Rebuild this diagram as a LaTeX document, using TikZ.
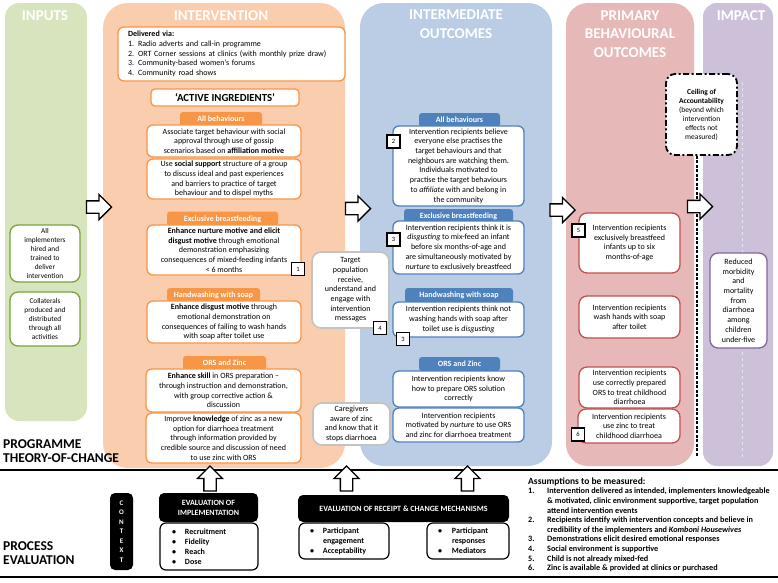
\documentclass[tikz,border=0pt]{standalone}
\usepackage{fontspec}
\setmainfont{Carlito}
\usetikzlibrary{shapes.arrows}
\definecolor{grcol}{RGB}{216,228,190}
\definecolor{grbd}{RGB}{119,163,60}
\definecolor{orcol}{RGB}{251,205,175}
\definecolor{orbd}{RGB}{247,150,70}
\definecolor{blcol}{RGB}{186,205,229}
\definecolor{blbd}{RGB}{79,129,189}
\definecolor{rdcol}{RGB}{230,185,184}
\definecolor{rdbd}{RGB}{192,80,77}
\definecolor{pucol}{RGB}{205,193,218}
\definecolor{pubd}{RGB}{128,100,162}
\definecolor{gybd}{RGB}{195,195,195}
\tikzset{
 ttl/.style={text=white, font=\fontsize{15}{18.5}\selectfont\bfseries, align=center, inner sep=0pt},
 bx/.style={fill=white, line width=1.3pt, rounded corners=6pt, align=center, font=\fontsize{8}{9.7}\selectfont, inner sep=0pt},
 obx/.style={bx, draw=orbd},
 bbx/.style={bx, draw=blbd},
 rbx/.style={bx, draw=rdbd},
 gbx/.style={bx, draw=grbd, font=\fontsize{7.3}{9}\selectfont, rounded corners=8pt},
 pbx/.style={bx, draw=pubd, rounded corners=8pt},
 gybx/.style={bx, draw=gybd, line width=1.6pt, rounded corners=9pt},
 tabx/.style={rounded corners=3pt, text=white, font=\fontsize{8}{9}\selectfont\bfseries, inner sep=0pt},
 otab/.style={tabx, fill=orbd},
 btab/.style={tabx, fill=blbd},
 lbl/.style={draw=black, fill=white, line width=1.3pt, minimum size=13pt, inner sep=0pt, font=\fontsize{6.5}{7}\selectfont},
 rarr/.style={single arrow, draw=black, fill=white, line width=1.3pt, minimum height=25pt, inner sep=5.5pt, single arrow head extend=6.5pt},
 blk/.style={fill=black, text=white, rounded corners=5pt, font=\fontsize{8}{10}\selectfont\bfseries, align=center, inner sep=0pt},
 wbx/.style={draw=black, fill=white, line width=1.2pt, rounded corners=6pt, font=\fontsize{8}{10}\selectfont\bfseries, align=left, inner sep=0pt},
 sect/.style={font=\fontsize{13.5}{14.5}\selectfont\bfseries, align=left, inner sep=0pt, anchor=west},
}
\begin{document}
\begin{tikzpicture}[x=1pt,y=-1pt]
\useasboundingbox (0,0) rectangle (778,582);
\fill[white] (0,0) rectangle (778,582);
% columns
\fill[grcol, rounded corners=14pt] (5,3) rectangle (87,421);
\fill[orcol, rounded corners=25pt] (103,3) rectangle (345,468);
\fill[blcol, rounded corners=24pt] (360,3) rectangle (552,466);
\fill[rdcol, rounded corners=22pt] (566,3) rectangle (694,466);
\fill[pucol, rounded corners=14pt] (703,3) rectangle (773,466);
% titles
\node[ttl] (tinp) at (45,16) {INPUTS};
\node[ttl] (tint) at (221,16) {INTERVENTION};
\node[ttl] (tmid) at (456,24) {INTERMEDIATE\\OUTCOMES};
\node[ttl] (tpri) at (630,34) {PRIMARY\\BEHAVIOURAL\\OUTCOMES};
\node[ttl] (timp) at (741,16) {IMPACT};
% inputs
\node[gbx, minimum width=70pt, minimum height=57pt] (g1) at (45,253.5) {All\\implementers\\hired and\\trained to\\deliver\\intervention};
\node[gbx, minimum width=70pt, minimum height=54pt] (g2) at (45,319) {Collaterals\\produced and\\distributed\\through all\\activities};
% intervention
\node[obx, align=left, text width=207pt, inner xsep=10pt, minimum height=54pt] (deliv) at (231.5,54) {\textbf{Delivered via:}\\1. Radio adverts and call-in programme\\2. ORT Corner sessions at clinics (with monthly prize draw)\\3. Community-based women’s forums\\4. Community road shows};
\node[obx, minimum width=148pt, minimum height=17pt, font=\fontsize{10.8}{12}\selectfont\bfseries, rounded corners=4pt] (activ) at (225,97.5) {‘ACTIVE INGREDIENTS’};
\node[otab, minimum width=82pt, minimum height=14pt] (otab1) at (221,119) {All behaviours};
\node[obx, minimum width=154pt, minimum height=32pt] (oa1) at (224,141) {Associate target behaviour with social\\approval through use of gossip\\scenarios based on \textbf{affiliation motive}};
\node[obx, minimum width=154pt, minimum height=40pt] (oa2) at (224,179) {Use \textbf{social support} structure of a group\\to discuss ideal and past experiences\\and barriers to practice of target\\behaviour and to dispel myths};
\node[otab, minimum width=111pt, minimum height=15pt] (otab2) at (222.5,219) {Exclusive breastfeeding};
\node[obx, minimum width=154pt, minimum height=50pt] (oeb) at (224,250) {\textbf{Enhance nurture motive and elicit}\\\textbf{disgust motive} through emotional\\demonstration emphasizing\\consequences of mixed-feeding infants\\< 6 months};
\node[lbl] (l1) at (298,269) {1};
\node[otab, minimum width=93pt, minimum height=14pt] (otab3) at (213.5,295) {Handwashing with soap};
\node[obx, minimum width=154pt, minimum height=42pt] (ohw) at (224,322) {\textbf{Enhance disgust motive} through\\emotional demonstration on\\consequences of failing to wash hands\\with soap after toilet use};
\node[otab, minimum width=83pt, minimum height=14pt] (otab4) at (224.5,363) {ORS and Zinc};
\node[obx, minimum width=155pt, minimum height=43pt] (orsa) at (223.5,390.5) {\textbf{Enhance skill} in ORS preparation –\\through instruction and demonstration,\\with group corrective action \&\\discussion};
\node[obx, minimum width=155pt, minimum height=50pt] (orsb) at (223.5,438) {Improve \textbf{knowledge} of zinc as a new\\option for diarrhoea treatment\\through information provided by\\credible source and discussion of need\\to use zinc with ORS};
% gray
\node[gybx, minimum width=77pt, minimum height=76pt] (tgt) at (350.5,290) {Target\\population\\receive,\\understand and\\engage with\\intervention\\messages};
\node[lbl] (l4) at (380,328) {4};
\node[gybx, minimum width=77pt, minimum height=42pt] (care) at (351.5,424) {Caregivers\\aware of zinc\\and know that it\\stops diarrhoea};
% intermediate
\node[btab, minimum width=81pt, minimum height=14pt] (btab1) at (459.5,120) {All behaviours};
\node[bbx, minimum width=131pt, minimum height=80pt] (bab) at (458.5,166) {Intervention recipients believe\\everyone else practises the\\target behaviours and that\\neighbours are watching them.\\Individuals motivated to\\practise the target behaviours\\to \textit{affiliate} with and belong in\\the community};
\node[lbl] (l2) at (393.5,141.5) {2};
\node[btab, minimum width=109pt, minimum height=14pt] (btab2) at (458.5,216) {Exclusive breastfeeding};
\node[bbx, minimum width=131pt, minimum height=53pt] (beb) at (458.5,247.5) {Intervention recipients think it is\\\textit{disgusting} to mix-feed an infant\\before six months-of-age and\\are simultaneously motivated by\\\textit{nurture} to exclusively breastfeed};
\node[lbl] (l3a) at (393.5,239.5) {3};
\node[btab, minimum width=108pt, minimum height=15pt] (btab3) at (459,295.5) {Handwashing with soap};
\node[bbx, minimum width=131pt, minimum height=35pt] (bhw) at (458.5,319.5) {Intervention recipients think not\\washing hands with soap after\\toilet use is \textit{disgusting}};
\node[lbl] (l3b) at (403,339) {3};
\node[btab, minimum width=81pt, minimum height=14pt] (btab4) at (459.5,364) {ORS and Zinc};
\node[bbx, minimum width=131pt, minimum height=36pt] (borsa) at (458.5,389) {Intervention recipients know\\how to prepare ORS solution\\correctly};
\node[bbx, minimum width=131pt, minimum height=34pt] (borsb) at (458.5,425) {Intervention recipients\\motivated by \textit{nurture} to use ORS\\and zinc for diarrhoea treatment};
% primary
\node[rbx, minimum width=101pt, minimum height=60pt, rounded corners=8pt] (r5) at (629.5,243) {Intervention recipients\\exclusively breastfeed\\infants up to six\\months-of-age};
\node[lbl] (l5) at (578.5,230.5) {5};
\node[rbx, minimum width=101pt, minimum height=42pt, rounded corners=8pt] (rhw) at (629.5,317) {Intervention recipients\\wash hands with soap\\after toilet};
\node[rbx, minimum width=101pt, minimum height=41pt, rounded corners=8pt] (rors) at (629.5,387.5) {Intervention recipients\\use correctly prepared\\ORS to treat childhood\\diarrhoea};
\node[rbx, minimum width=102pt, minimum height=34pt, rounded corners=8pt] (rzinc) at (629,426) {Intervention recipients\\use zinc to treat\\childhood diarrhoea};
\node[lbl] (l6) at (578,434.5) {6};
% impact
\draw[white!55!pucol, dashed, line width=0.8pt] (742,82) -- (742,460);
\node[pbx, minimum width=57pt, minimum height=95pt] (imp) at (738.5,300.5) {Reduced\\morbidity\\and\\mortality\\from\\diarrhoea\\among\\children\\under-five};
% ceiling
\node[bx, draw=black, line width=1.8pt, dash pattern=on 6pt off 2.5pt on 2pt off 2.5pt, rounded corners=9pt, minimum width=71pt, minimum height=81pt, font=\fontsize{7.5}{9}\selectfont] (ceil) at (701.5,114.5) {\textbf{Ceiling of}\\\textbf{Accountability}\\(beyond which\\intervention\\effects not\\measured)};
\coordinate (cend) at (697,457);
\draw[black, line width=1.3pt, dash pattern=on 3pt off 1.5pt] (ceil.south -| cend) -- (cend);
% block arrows between columns
\node[rarr] (arA) at (96,207) {};
\node[rarr] (arB) at (355,208.5) {};
\node[rarr] (arC) at (559.5,210) {};
\node[rarr] (arD) at (697,206.5) {};
% section labels
\node[sect] (ptoc) at (3,451) {PROGRAMME\\THEORY-OF-CHANGE};
\node[sect] (pev) at (3,553) {PROCESS\\EVALUATION};
% lines
\draw[line width=1.8pt] (0,470) coordinate (lineL) -- (778,470) coordinate (lineR);
\draw[line width=1.8pt] (0,577) coordinate (line2L) -- (778,577) coordinate (line2R);
% process evaluation
\node[blk, minimum width=23pt, minimum height=77pt, font=\fontsize{7}{9.5}\selectfont\bfseries] (ctx) at (121.5,531.5) {C\\O\\N\\T\\E\\X\\T};
\node[blk, minimum width=99pt, minimum height=29pt] (eimp) at (208.5,507.5) {EVALUATION OF\\IMPLEMENTATION};
\node[wbx, minimum width=98pt, minimum height=47pt, text width=82pt] (eimpl) at (209,546.5) {\makebox[17pt][l]{\hspace{4pt}•}Recruitment\\\makebox[17pt][l]{\hspace{4pt}•}Fidelity\\\makebox[17pt][l]{\hspace{4pt}•}Reach\\\makebox[17pt][l]{\hspace{4pt}•}Dose};
\node[blk, minimum width=211pt, minimum height=27pt] (erec) at (403.5,508.5) {EVALUATION OF RECEIPT \& CHANGE MECHANISMS};
\node[wbx, minimum width=90pt, minimum height=36pt, text width=84pt] (erl) at (344,541) {\makebox[21pt][l]{\hspace{8pt}•}Participant\\\hspace*{21pt}engagement\\\makebox[21pt][l]{\hspace{8pt}•}Acceptability};
\node[wbx, minimum width=82pt, minimum height=36pt, text width=78pt] (err) at (468,541) {\makebox[23pt][l]{\hspace{9pt}•}Participant\\\hspace*{23pt}responses\\\makebox[23pt][l]{\hspace{9pt}•}Mediators};
\node[rarr, rotate=90, minimum height=25pt] (upA) at (210,481.5) {};
\node[rarr, rotate=90, minimum height=25pt] (upB) at (346.5,481.5) {};
\node[rarr, rotate=90, minimum height=25pt] (upC) at (467.5,481.5) {};
% assumptions
\node[anchor=north west, align=left, inner sep=0pt, font=\fontsize{8.2}{9.6}\selectfont\bfseries] (assum) at (528,477.5) {{\fontsize{9.5}{9.6}\selectfont Assumptions to be measured:}\\
\makebox[19pt][l]{1.}Intervention delivered as intended, implementers knowledgeable\\
\hspace*{19pt}\& motivated, clinic environment supportive, target population\\
\hspace*{19pt}attend intervention events\\
\makebox[19pt][l]{2.}Recipients identify with intervention concepts and believe in\\
\hspace*{19pt}credibility of the implementers and \textit{Komboni Housewives}\\
\makebox[19pt][l]{3.}Demonstrations elicit desired emotional responses\\
\makebox[19pt][l]{4.}Social environment is supportive\\
\makebox[19pt][l]{5.}Child is not already mixed-fed\\
\makebox[19pt][l]{6.}Zinc is available \& provided at clinics or purchased};
\end{tikzpicture}
\end{document}
